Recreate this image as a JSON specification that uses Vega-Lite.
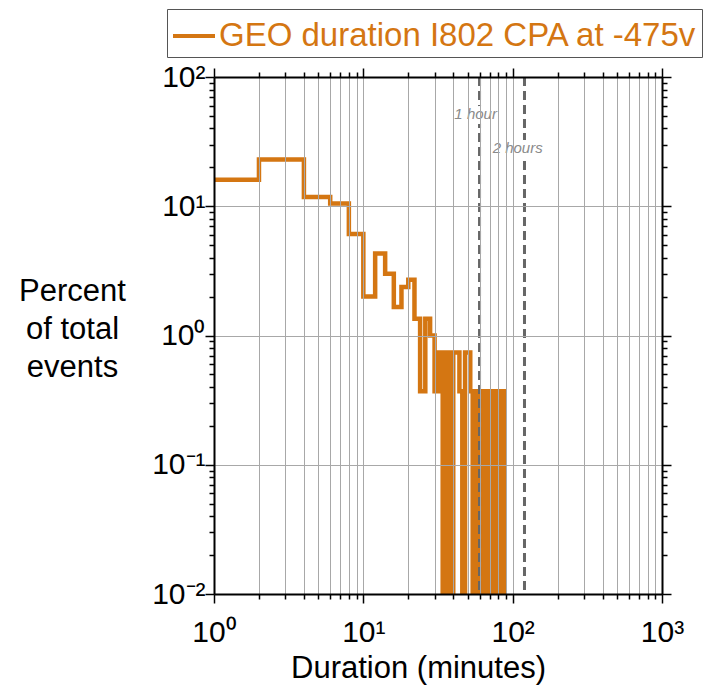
{
  "$schema": "https://vega.github.io/schema/vega-lite/v6.json",
  "width": 448,
  "height": 517,
  "autosize": {"type": "none"},
  "padding": {"left": 214, "top": 77, "right": 49, "bottom": 92},
  "background": "white",
  "config": {"view": {"stroke": null}, "font": "Liberation Sans"},
  "datasets": {
    "hist": [
      {"t": 1, "p": 16}, {"t": 2, "p": 23}, {"t": 4, "p": 11.8}, {"t": 6, "p": 10.5},
      {"t": 8, "p": 6.1}, {"t": 10, "p": 2.0}, {"t": 12, "p": 4.3}, {"t": 14, "p": 3.0},
      {"t": 16, "p": 1.66}, {"t": 18, "p": 2.37}, {"t": 20, "p": 2.7}, {"t": 22, "p": 1.35},
      {"t": 24, "p": 0.37}, {"t": 26, "p": 1.35}, {"t": 28, "p": 1.0}, {"t": 30, "p": 0.37},
      {"t": 32, "p": 0.74}, {"t": 34, "p": 0.001}, {"t": 36, "p": 0.74}, {"t": 38, "p": 0.001},
      {"t": 40, "p": 0.74}, {"t": 42, "p": 0.74}, {"t": 44, "p": 0.37}, {"t": 46, "p": 0.001},
      {"t": 48, "p": 0.74}, {"t": 50, "p": 0.74}, {"t": 52, "p": 0.37}, {"t": 54, "p": 0.001},
      {"t": 56, "p": 0.37}, {"t": 58, "p": 0.37}, {"t": 60, "p": 0.001}, {"t": 62, "p": 0.37},
      {"t": 64, "p": 0.001}, {"t": 66, "p": 0.37}, {"t": 68, "p": 0.37}, {"t": 70, "p": 0.001},
      {"t": 72, "p": 0.37}, {"t": 74, "p": 0.37}, {"t": 76, "p": 0.001}, {"t": 78, "p": 0.37},
      {"t": 80, "p": 0.37}, {"t": 82, "p": 0.001}, {"t": 84, "p": 0.37}, {"t": 86, "p": 0.37},
      {"t": 88, "p": 0.001}
    ],
    "marks": [{"m": 60}, {"m": 120}],
    "notes": [
      {"x": 56.5, "y": 52, "label": "1 hour"},
      {"x": 108, "y": 28, "label": "2 hours"}
    ]
  },
  "layer": [
    {
      "data": {"name": "hist"},
      "mark": {"type": "line", "interpolate": "step-after", "strokeWidth": 4.5, "clip": true, "strokeJoin": "miter", "strokeCap": "butt"},
      "encoding": {
        "x": {
          "field": "t", "type": "quantitative",
          "scale": {"type": "log", "domain": [1, 1000], "nice": false},
          "axis": {
            "orient": "bottom",
            "values": [1,2,3,4,5,6,7,8,9,10,20,30,40,50,60,70,80,90,100,200,300,400,500,600,700,800,900,1000],
            "labelExpr": "datum.value == 1 ? '10⁰' : datum.value == 10 ? '10¹' : datum.value == 100 ? '10²' : datum.value == 1000 ? '10³' : ''",
            "labelFontSize": 30, "labelColor": "black", "labelPadding": 14,
            "labelOverlap": false, "labelFlush": false,
            "tickColor": "black", "tickWidth": 1.5,
            "tickSize": {"condition": {"test": "abs(log(datum.value)/LN10 - round(log(datum.value)/LN10)) < 0.001", "value": 9}, "value": 5},
            "grid": true, "gridColor": "#a8a8a8", "gridWidth": 1,
            "domain": true, "domainColor": "black", "domainWidth": 2,
            "title": "Duration (minutes)", "titleFontSize": 31, "titleFontWeight": "normal",
            "titleColor": "black", "titleBaseline": "alphabetic", "titleY": 83, "titleX": 204,
            "zindex": 1
          }
        },
        "y": {
          "field": "p", "type": "quantitative",
          "scale": {"type": "log", "domain": [0.01, 100], "nice": false},
          "axis": {
            "orient": "left",
            "values": [0.01,0.02,0.03,0.04,0.05,0.06,0.07,0.08,0.09,0.1,0.2,0.3,0.4,0.5,0.6,0.7,0.8,0.9,1,2,3,4,5,6,7,8,9,10,20,30,40,50,60,70,80,90,100],
            "labelExpr": "datum.value == 0.01 ? '10⁻²' : datum.value == 0.1 ? '10⁻¹' : datum.value == 1 ? '10⁰' : datum.value == 10 ? '10¹' : datum.value == 100 ? '10²' : ''",
            "labelFontSize": 30, "labelColor": "black", "labelPadding": 0,
            "labelOverlap": false, "labelFlush": false,
            "tickColor": "black", "tickWidth": 1.5,
            "tickSize": {"condition": {"test": "abs(log(datum.value)/LN10 - round(log(datum.value)/LN10)) < 0.001", "value": 9}, "value": 5},
            "grid": true, "gridColor": "#a8a8a8", "gridWidth": 1,
            "gridOpacity": {"condition": {"test": "abs(log(datum.value)/LN10 - round(log(datum.value)/LN10)) < 0.001", "value": 1}, "value": 0},
            "domain": true, "domainColor": "black", "domainWidth": 2,
            "title": ["Percent", "of total", "events"], "titleAngle": 0, "titleAlign": "center",
            "titleBaseline": "alphabetic", "titleX": -142, "titleY": 223,
            "titleFontSize": 31, "titleFontWeight": "normal", "titleColor": "black", "titleLineHeight": 38,
            "zindex": 1
          }
        },
        "color": {
          "datum": "GEO duration I802 CPA at -475v",
          "type": "nominal",
          "scale": {"range": ["#d47612"]},
          "legend": {
            "orient": "none", "legendX": -47, "legendY": -68, "title": null,
            "symbolType": "stroke", "symbolStrokeWidth": 4, "symbolSize": 1764,
            "labelFontSize": 33, "labelColor": "#d47612", "labelFont": "Liberation Sans",
            "labelLimit": 0, "labelOffset": 2,
            "strokeColor": "#555555", "fillColor": "white", "padding": 4
          }
        }
      }
    },
    {
      "data": {"name": "marks"},
      "mark": {"type": "rule", "strokeDash": [9, 5], "strokeWidth": 3, "color": "#666666"},
      "encoding": {
        "x": {
          "field": "m", "type": "quantitative",
          "scale": {"type": "log", "domain": [1, 1000], "nice": false},
          "axis": {
            "orient": "top",
            "values": [1,2,3,4,5,6,7,8,9,10,20,30,40,50,60,70,80,90,100,200,300,400,500,600,700,800,900,1000],
            "labels": false, "title": null, "grid": false,
            "tickColor": "black", "tickWidth": 1.5,
            "tickSize": {"condition": {"test": "abs(log(datum.value)/LN10 - round(log(datum.value)/LN10)) < 0.001", "value": 9}, "value": 5},
            "domain": true, "domainColor": "black", "domainWidth": 2, "zindex": 1
          }
        }
      }
    },
    {
      "data": {"name": "notes"},
      "mark": {"type": "text", "fontStyle": "italic", "fontSize": 15, "stroke": "white", "strokeWidth": 10, "strokeJoin": "round", "fill": "white"},
      "encoding": {
        "x": {"field": "x", "type": "quantitative", "scale": {"type": "log", "domain": [1, 1000], "nice": false}, "axis": null},
        "y": {
          "field": "y", "type": "quantitative",
          "scale": {"type": "log", "domain": [0.01, 100], "nice": false},
          "axis": {
            "orient": "right",
            "values": [0.01,0.02,0.03,0.04,0.05,0.06,0.07,0.08,0.09,0.1,0.2,0.3,0.4,0.5,0.6,0.7,0.8,0.9,1,2,3,4,5,6,7,8,9,10,20,30,40,50,60,70,80,90,100],
            "labels": false, "title": null, "grid": false,
            "tickColor": "black", "tickWidth": 1.5,
            "tickSize": {"condition": {"test": "abs(log(datum.value)/LN10 - round(log(datum.value)/LN10)) < 0.001", "value": 9}, "value": 5},
            "domain": true, "domainColor": "black", "domainWidth": 2, "zindex": 1
          }
        },
        "text": {"field": "label"}
      }
    },
    {
      "data": {"name": "notes"},
      "mark": {"type": "text", "fontStyle": "italic", "fontSize": 15, "color": "#8a8a8a"},
      "encoding": {
        "x": {"field": "x", "type": "quantitative", "scale": {"type": "log", "domain": [1, 1000], "nice": false}, "axis": null},
        "y": {"field": "y", "type": "quantitative", "scale": {"type": "log", "domain": [0.01, 100], "nice": false}, "axis": null},
        "text": {"field": "label"}
      }
    }
  ],
  "resolve": {"axis": {"x": "independent", "y": "independent"}}
}
